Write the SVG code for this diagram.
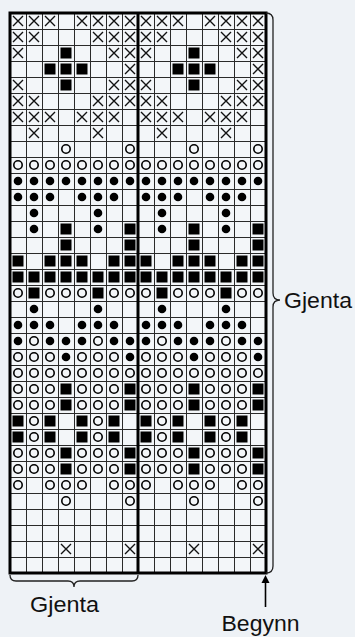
<svg xmlns="http://www.w3.org/2000/svg" xmlns:xlink="http://www.w3.org/1999/xlink" width="355" height="637" viewBox="0 0 355 637">
<style>
.lbl{font-family:"Liberation Sans",Arial,sans-serif;font-size:22px;fill:#111}
.brace{fill:none;stroke:#222;stroke-width:1.3}
</style>
<defs>
<pattern id="cell" patternUnits="userSpaceOnUse" x="10" y="13" width="16" height="16">
<rect width="16" height="16" fill="#f3f6f9"/>
<path d="M0.5 0V16M0 0.5H16" stroke="#2a2a2a" stroke-width="1"/>
</pattern>
<path id="x" d="M-5,-5L5,5M5,-5L-5,5" stroke="#111" stroke-width="1.4" fill="none"/>
<rect id="s" x="-5.5" y="-5.5" width="11" height="11" fill="#000"/>
<circle id="d" r="4.3" fill="#000"/>
<circle id="o" r="4.2" fill="none" stroke="#000" stroke-width="1.6"/>
<g id="half">
<g transform="translate(0,21)"><use href="#x" x="18"/><use href="#x" x="34"/><use href="#x" x="50"/><use href="#x" x="82"/><use href="#x" x="98"/><use href="#x" x="114"/><use href="#x" x="130"/></g>
<g transform="translate(0,37)"><use href="#x" x="18"/><use href="#x" x="34"/><use href="#x" x="98"/><use href="#x" x="114"/><use href="#x" x="130"/></g>
<g transform="translate(0,53)"><use href="#x" x="18"/><use href="#s" x="66"/><use href="#x" x="114"/><use href="#x" x="130"/></g>
<g transform="translate(0,69)"><use href="#s" x="50"/><use href="#s" x="66"/><use href="#s" x="82"/><use href="#x" x="130"/></g>
<g transform="translate(0,85)"><use href="#x" x="18"/><use href="#s" x="66"/><use href="#x" x="114"/><use href="#x" x="130"/></g>
<g transform="translate(0,101)"><use href="#x" x="18"/><use href="#x" x="34"/><use href="#x" x="98"/><use href="#x" x="114"/><use href="#x" x="130"/></g>
<g transform="translate(0,117)"><use href="#x" x="18"/><use href="#x" x="34"/><use href="#x" x="50"/><use href="#x" x="82"/><use href="#x" x="98"/><use href="#x" x="114"/></g>
<g transform="translate(0,133)"><use href="#x" x="34"/><use href="#x" x="98"/></g>
<g transform="translate(0,149)"><use href="#o" x="66"/><use href="#o" x="130"/></g>
<g transform="translate(0,165)"><use href="#o" x="18"/><use href="#o" x="34"/><use href="#o" x="50"/><use href="#o" x="66"/><use href="#o" x="82"/><use href="#o" x="98"/><use href="#o" x="114"/><use href="#o" x="130"/></g>
<g transform="translate(0,181)"><use href="#d" x="18"/><use href="#d" x="34"/><use href="#d" x="50"/><use href="#d" x="66"/><use href="#d" x="82"/><use href="#d" x="98"/><use href="#d" x="114"/><use href="#d" x="130"/></g>
<g transform="translate(0,197)"><use href="#d" x="18"/><use href="#d" x="34"/><use href="#d" x="50"/><use href="#d" x="82"/><use href="#d" x="98"/><use href="#d" x="114"/></g>
<g transform="translate(0,213)"><use href="#d" x="34"/><use href="#d" x="98"/></g>
<g transform="translate(0,229)"><use href="#d" x="34"/><use href="#s" x="66"/><use href="#d" x="98"/><use href="#s" x="130"/></g>
<g transform="translate(0,245)"><use href="#s" x="66"/><use href="#s" x="130"/></g>
<g transform="translate(0,261)"><use href="#s" x="18"/><use href="#s" x="50"/><use href="#s" x="66"/><use href="#s" x="82"/><use href="#s" x="114"/><use href="#s" x="130"/></g>
<g transform="translate(0,277)"><use href="#s" x="18"/><use href="#s" x="34"/><use href="#s" x="50"/><use href="#s" x="66"/><use href="#s" x="82"/><use href="#s" x="98"/><use href="#s" x="114"/><use href="#s" x="130"/></g>
<g transform="translate(0,293)"><use href="#o" x="18"/><use href="#s" x="34"/><use href="#o" x="50"/><use href="#o" x="66"/><use href="#o" x="82"/><use href="#s" x="98"/><use href="#o" x="114"/><use href="#o" x="130"/></g>
<g transform="translate(0,309)"><use href="#d" x="34"/><use href="#d" x="98"/></g>
<g transform="translate(0,325)"><use href="#d" x="18"/><use href="#d" x="34"/><use href="#d" x="50"/><use href="#d" x="82"/><use href="#d" x="98"/><use href="#d" x="114"/></g>
<g transform="translate(0,341)"><use href="#d" x="18"/><use href="#o" x="34"/><use href="#d" x="50"/><use href="#d" x="66"/><use href="#d" x="82"/><use href="#o" x="98"/><use href="#d" x="114"/><use href="#d" x="130"/></g>
<g transform="translate(0,357)"><use href="#o" x="18"/><use href="#o" x="34"/><use href="#o" x="50"/><use href="#d" x="66"/><use href="#o" x="82"/><use href="#o" x="98"/><use href="#o" x="114"/><use href="#d" x="130"/></g>
<g transform="translate(0,373)"><use href="#o" x="18"/><use href="#o" x="34"/><use href="#o" x="50"/><use href="#o" x="66"/><use href="#o" x="82"/><use href="#o" x="98"/><use href="#o" x="114"/><use href="#o" x="130"/></g>
<g id="r23" transform="translate(0,389)"><use href="#o" x="18"/><use href="#o" x="34"/><use href="#o" x="50"/><use href="#s" x="66"/><use href="#o" x="82"/><use href="#o" x="98"/><use href="#o" x="114"/><use href="#s" x="130"/></g>
<g transform="translate(0,405)"><use href="#o" x="18"/><use href="#o" x="34"/><use href="#o" x="50"/><use href="#s" x="66"/><use href="#o" x="82"/><use href="#o" x="98"/><use href="#o" x="114"/><use href="#s" x="130"/></g>
<g transform="translate(0,421)"><use href="#s" x="18"/><use href="#o" x="34"/><use href="#s" x="50"/><use href="#s" x="82"/><use href="#o" x="98"/><use href="#s" x="114"/></g>
<g transform="translate(0,437)"><use href="#s" x="18"/><use href="#o" x="34"/><use href="#s" x="50"/><use href="#s" x="82"/><use href="#o" x="98"/><use href="#s" x="114"/></g>
<g transform="translate(0,453)"><use href="#o" x="18"/><use href="#o" x="34"/><use href="#o" x="50"/><use href="#s" x="66"/><use href="#o" x="82"/><use href="#o" x="98"/><use href="#o" x="114"/><use href="#s" x="130"/></g>
<g transform="translate(0,469)"><use href="#o" x="18"/><use href="#o" x="34"/><use href="#o" x="50"/><use href="#s" x="66"/><use href="#o" x="82"/><use href="#o" x="98"/><use href="#o" x="114"/><use href="#s" x="130"/></g>
<g transform="translate(0,485)"><use href="#o" x="18"/><use href="#o" x="50"/><use href="#o" x="66"/><use href="#o" x="82"/><use href="#o" x="114"/><use href="#o" x="130"/></g>
<g transform="translate(0,501)"><use href="#o" x="66"/><use href="#o" x="130"/></g>
<g transform="translate(0,549)"><use href="#x" x="66"/><use href="#x" x="130"/></g>
</g>
</defs>
<rect width="355" height="637" fill="#eef2f6"/>
<g id="chart">
<rect x="10" y="13" width="256" height="560" fill="url(#cell)"/>
<g id="repeat-left"><use href="#half"/></g>
<g id="repeat-right"><use href="#half" x="128"/></g>
<rect x="10" y="13" width="256" height="560" fill="none" stroke="#000" stroke-width="3"/>
<line x1="138" y1="13" x2="138" y2="573" stroke="#000" stroke-width="3"/>
</g>
<g id="brace-right">
<path class="brace" d="M266,13 Q273,13 273,20 V293 Q273,300 280,300 Q273,300 273,307 V566 Q273,573 266,573"/>
<text class="lbl" x="284" y="308" textLength="68" lengthAdjust="spacingAndGlyphs">Gjenta</text>
</g>
<g id="brace-bottom">
<path class="brace" d="M10,575 Q10,581 16,581 H68 Q74,581 74,587 Q74,581 80,581 H132 Q138,581 138,575"/>
<text class="lbl" x="64.5" y="612" text-anchor="middle" textLength="69" lengthAdjust="spacingAndGlyphs">Gjenta</text>
</g>
<g id="start">
<text class="lbl" x="260.5" y="631" text-anchor="middle" textLength="78" lengthAdjust="spacingAndGlyphs">Begynn</text>
</g>
<g id="connectors">
<line x1="265.5" y1="607" x2="265.5" y2="581" stroke="#000" stroke-width="1.6"/>
<path d="M265.5,575 L261.5,583 L269.5,583 Z" fill="#000"/>
</g>
</svg>
